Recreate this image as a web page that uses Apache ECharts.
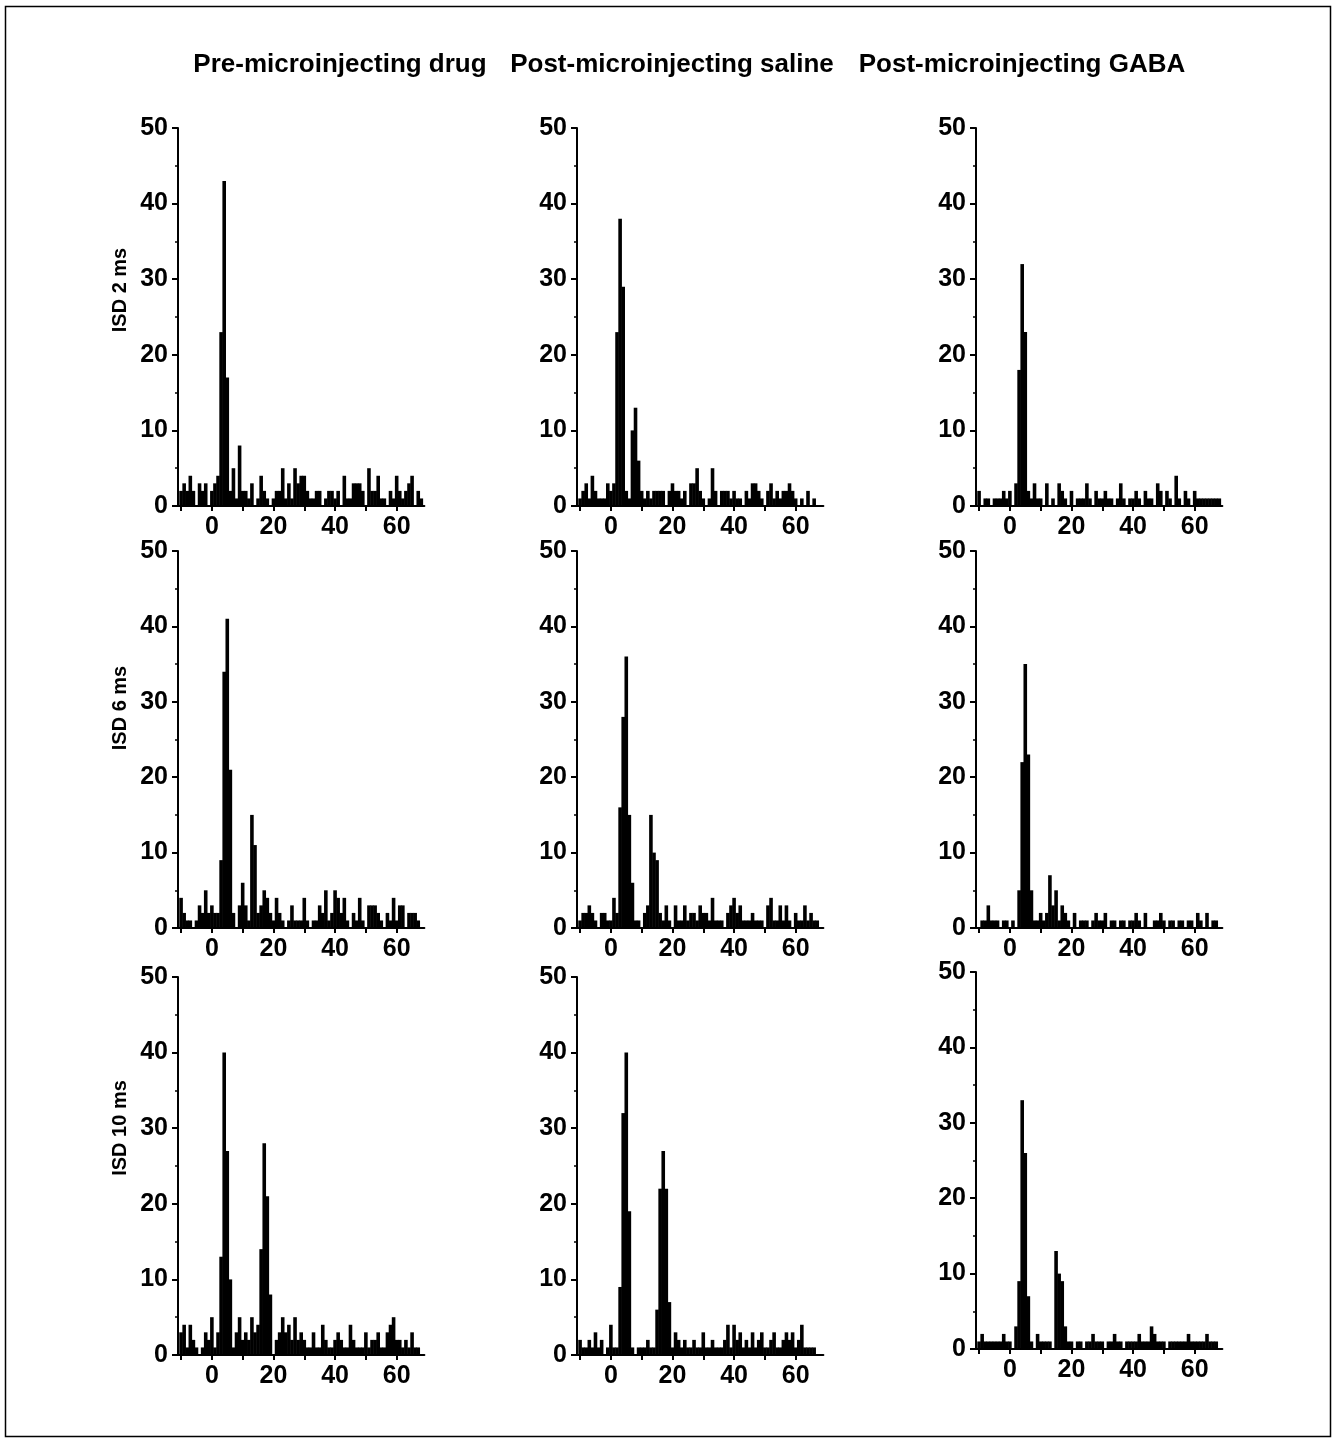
<!DOCTYPE html>
<html>
<head>
<meta charset="utf-8">
<script src="https://cdn.jsdelivr.net/npm/echarts@6/dist/echarts.min.js"></script>
<style>
html,body{margin:0;padding:0;background:#fff;}
#chart{width:1336px;height:1441px;}
</style>
</head>
<body>
<div id="chart"></div>
<script>
// Bin centres (ms), -10 .. 68
const bins = [];
for (let b = -10; b <= 68; b++) bins.push(b);

const columnTitles = ["Pre-microinjecting drug", "Post-microinjecting saline", "Post-microinjecting GABA"];
const rowLabels = ["ISD 2 ms", "ISD 6 ms", "ISD 10 ms"];
const yTicks = [0, 10, 20, 30, 40, 50];
const xTickValues = [-10, 0, 10, 20, 30, 40, 50, 60];
const xLabelValues = [0, 20, 40, 60];

// Row 1: ISD 2 ms
const isd2Pre = [2,3,2,4,2,0,3,2,3,0, 2,3,4,23,43,17,2,5,1,8, 2,2,1,3,0,1,4,2,1,0, 1,2,2,5,1,3,1,5,3,4, 4,2,1,1,2,2,0,1,2,2, 1,2,0,4,1,1,3,3,3,2, 0,5,2,2,4,1,1,0,2,1, 4,2,1,2,3,4,0,2,1];
const isd2Saline = [1,2,3,1,4,2,1,1,1,3, 2,3,23,38,29,2,1,10,13,6, 2,1,2,1,2,2,2,2,0,2, 3,2,2,1,2,0,3,3,5,2, 1,0,1,5,2,0,2,2,2,1, 2,1,1,0,2,1,3,3,2,1, 0,2,3,1,2,1,2,2,3,2, 1,0,1,0,2,0,1,0,0];
const isd2Gaba = [2,0,1,1,0,1,1,1,2,1, 2,0,3,18,32,23,2,1,3,1, 1,0,3,0,1,0,3,2,1,0, 2,0,1,1,1,3,1,0,2,1, 1,2,1,1,0,1,3,1,0,1, 1,2,1,0,2,1,1,0,3,2, 0,2,1,0,4,1,0,2,1,0, 2,1,1,1,1,1,1,1,1];
// Row 2: ISD 6 ms
const isd6Pre = [4,2,1,1,0,1,3,2,5,2, 3,2,2,9,34,41,21,2,0,3, 6,3,1,15,11,2,3,5,4,2, 1,4,2,1,0,1,3,1,1,1, 4,1,0,1,1,3,2,5,1,2, 5,4,2,4,1,0,2,1,4,1, 0,3,3,3,2,1,0,2,1,4, 1,3,3,0,2,2,2,1,0];
const isd6Saline = [1,2,2,3,2,1,0,2,2,1, 1,4,2,16,28,36,15,6,1,1, 0,2,3,15,10,9,2,1,3,1, 0,3,1,1,3,1,2,2,1,3, 2,2,1,4,1,1,1,0,2,3, 4,2,3,1,1,1,2,1,1,1, 0,3,4,1,1,3,1,3,1,0, 2,1,1,3,1,2,1,1,0];
const isd6Gaba = [0,1,1,3,1,1,1,0,1,1, 0,1,0,5,22,35,23,5,1,1, 2,1,2,7,3,5,1,3,2,1, 0,2,0,1,1,1,0,1,2,1, 1,2,0,1,1,0,1,1,0,1, 1,2,1,0,2,0,0,1,1,2, 1,0,1,1,0,1,1,0,1,1, 0,2,1,0,2,0,1,1,0];
// Row 3: ISD 10 ms
const isd10Pre = [3,4,1,4,2,1,0,1,3,2, 5,1,3,13,40,27,10,1,3,5, 2,3,2,5,3,4,14,28,21,8, 0,2,3,5,3,4,2,5,2,3, 2,1,1,3,1,1,4,2,1,1, 2,3,2,1,1,4,2,1,1,1, 3,1,2,2,3,1,1,3,4,5, 2,2,1,2,1,3,1,1,0];
const isd10Saline = [2,1,1,2,1,3,1,2,0,1, 4,1,1,9,32,40,19,1,0,1, 1,1,2,1,1,6,22,27,22,7, 1,3,2,1,2,1,1,2,1,1, 3,1,1,2,1,1,1,2,4,1, 4,2,3,1,2,1,3,1,2,3, 1,1,2,3,1,1,2,3,2,3, 1,2,4,1,1,1,1,0,0];
const isd10Gaba = [1,2,1,1,1,1,1,1,2,1, 1,0,3,9,33,26,7,1,0,2, 1,1,1,1,0,13,10,9,3,1, 1,0,1,1,0,1,1,2,1,1, 1,0,1,1,2,1,1,0,1,1, 1,1,2,1,1,1,3,2,1,1, 1,0,1,1,1,1,1,1,2,1, 1,1,1,1,2,1,1,1,0];

const panels = [
  [isd2Pre, isd2Saline, isd2Gaba],
  [isd6Pre, isd6Saline, isd6Gaba],
  [isd10Pre, isd10Saline, isd10Gaba]
];

// Layout (pixels)
const colLeft = [178, 577, 976];
const plotWidth = 246.4;
const rowTop = [[128,128,128],[551,551,551],[977,977,972]];
const rowHeight = [[378,378,378],[377,377,377],[378,378,377]];

const FONT = '"Liberation Sans", Arial, sans-serif';

const grids = [], xAxes = [], yAxes = [], series = [];
let k = 0;
for (let r = 0; r < 3; r++) {
  for (let c = 0; c < 3; c++) {
    grids.push({ left: colLeft[c], top: rowTop[r][c], width: plotWidth, height: rowHeight[r][c], containLabel: false });
    xAxes.push({
      type: 'value', gridIndex: k, min: -11, max: 69,
      splitLine: { show: false },
      axisLine: { show: true, onZero: false, lineStyle: { color: '#000', width: 2 } },
      axisTick: { show: true, length: 5, lineStyle: { color: '#000', width: 2 }, customValues: xTickValues },
      axisLabel: { show: true, customValues: xLabelValues, margin: 9, color: '#000', fontSize: 25, fontWeight: 'bold', fontFamily: FONT }
    });
    yAxes.push({
      type: 'value', gridIndex: k, min: 0, max: 50, interval: 10,
      splitLine: { show: false },
      axisLine: { show: true, onZero: false, lineStyle: { color: '#000', width: 2 } },
      axisTick: { show: true, length: 6, lineStyle: { color: '#000', width: 2 } },
      minorTick: { show: true, splitNumber: 2, length: 3, lineStyle: { color: '#000', width: 1.5 } },
      axisLabel: { show: true, margin: 10, color: '#000', fontSize: 25, fontWeight: 'bold', fontFamily: FONT }
    });
    const vals = panels[r][c];
    series.push({
      type: 'bar', xAxisIndex: k, yAxisIndex: k,
      data: bins.map((b, i) => [b, vals[i]]),
      barWidth: 3.6,
      itemStyle: { color: '#000' },
      silent: true, animation: false
    });
    k++;
  }
}

const titleCenters = [340, 672, 1022];
const rowCenters = [290, 708, 1128];
const graphic = [
  { type: 'rect', shape: { x: 5.5, y: 6.5, width: 1325, height: 1430 }, style: { fill: 'none', stroke: '#000', lineWidth: 1.5 }, silent: true }
];
columnTitles.forEach((t, i) => {
  graphic.push({ type: 'text', x: titleCenters[i], y: 65, style: { text: t, align: 'center', verticalAlign: 'middle', fill: '#000', font: 'bold 26px ' + FONT } });
});
rowLabels.forEach((t, i) => {
  graphic.push({ type: 'text', x: 120, y: rowCenters[i], rotation: Math.PI / 2, style: { text: t, align: 'center', verticalAlign: 'middle', fill: '#000', font: 'bold 20px ' + FONT } });
});

const chart = echarts.init(document.getElementById('chart'), null, { renderer: 'canvas' });
chart.setOption({
  animation: false,
  backgroundColor: '#fff',
  grid: grids,
  xAxis: xAxes,
  yAxis: yAxes,
  series: series,
  graphic: graphic
});
</script>
</body>
</html>
